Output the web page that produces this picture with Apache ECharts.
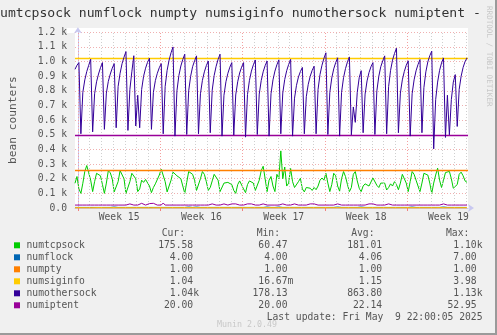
<!DOCTYPE html>
<html><head><meta charset="utf-8">
<script src="https://cdn.jsdelivr.net/npm/echarts@6/dist/echarts.min.js"></script>
<style>html,body{margin:0;padding:0;background:#f0f0f0;overflow:hidden}#c{width:497px;height:335px}</style>
</head><body><div id="c"></div>
<script>
// ---- data ----
const titleText = 'umtcpsock numflock numpty numsiginfo numothersock numiptent -';
const yAxisTitle = 'bean counters';
const seriesNames = ['numtcpsock','numflock','numpty','numsiginfo','numothersock','numiptent'];
const seriesColors = ['#00cc00','#0066b3','#ff8000','#ffcc00','#330099','#990099'];
// samples: hours relative to start of Week 15, first sample at -6h, one sample every 4h
const startHour = -6;
const stepHours = 4;
const numtcpsock = [
169,215,130,100,169,250,290,240,190,112,
180,237,237,220,160,100,170,255,240,200,
110,100,180,255,255,200,100,110,180,237,
230,200,112,130,190,175,195,190,150,105,
140,165,175,225,265,272,180,110,120,190,
245,240,220,225,200,150,100,175,249,240,
230,190,120,110,200,249,230,180,120,140,
185,230,235,190,112,115,170,180,175,175,
160,120,100,160,185,175,130,105,160,185,
190,170,120,130,190,255,285,200,112,190,
215,150,112,230,200,390,200,280,150,170,
270,180,140,150,180,203,130,110,140,140,
135,120,140,125,150,190,205,190,237,170,
112,160,237,220,150,115,200,249,215,160,
112,140,230,249,185,135,112,150,165,160,
150,160,205,200,155,140,170,180,170,123,
140,165,150,180,160,125,170,230,220,170,
112,180,249,230,190,150,112,170,237,249,
225,170,100,170,225,272,190,140,190,242,
240,250,200,135,125,160,230,245,220,185,
175];
const numflock = [
4,4,4,4,4,4,4,4,4,4,4,4,4,4,4,4,4,4,4,4,
7,4,4,4,4,4,4,4,4,4,4,4,4,4,4,4,4,4,4,4,
4,4,4,4,4,4,4,4,4,4,4,4,4,4,4,4,4,4,7,4,
4,4,7,4,4,4,4,4,4,4,4,4,4,4,4,4,4,4,4,4,
4,4,4,4,4,4,4,4,4,4,4,4,4,4,4,4,4,4,7,4,
4,4,4,4,7,4,4,4,4,4,4,4,4,4,4,4,4,4,4,4,
4,4,4,4,4,4,4,4,4,4,4,4,4,4,7,4,4,4,4,4,
4,4,4,4,4,4,7,4,4,4,4,4,4,4,4,4,4,4,4,4,
4,4,4,4,4,4,4,4,4,4,4,4,7,4,4,4,4,4,4,4,
4,4,4,4,4,4,4,4,7,4,4,4,4,4,4,4,4,4,4,4,
4];
const numpty = [
1,1,1,1,1,1,1,1,1,1,1,1,1,1,1,1,1,1,1,1,
1,1,1,1,1,1,1,1,1,1,1,1,1,1,1,1,1,1,1,1,
1,1,1,1,1,1,1,1,1,1,1,1,1,1,1,1,1,1,1,1,
1,1,1,1,1,1,1,1,1,1,1,1,1,1,1,1,1,1,1,1,
1,1,1,1,1,1,1,1,1,1,1,1,1,1,1,1,1,1,1,1,
1,1,1,1,1,1,1,1,1,1,1,1,1,1,1,1,1,1,1,1,
1,1,1,1,1,1,1,1,1,1,1,1,1,1,1,1,1,1,1,1,
1,1,1,1,1,1,1,1,1,1,1,1,1,1,1,1,1,1,1,1,
1,1,1,1,1,1,1,1,1,1,1,1,1,1,1,1,1,1,1,1,
1,1,1,1,1,1,1,1,1,1,1,1,1,1,1,1,1,1,1,1,
1];
const numsiginfo = [
1,1,1,2,1,1,1,1,0,1,1,1,2,1,1,1,1,1,1,1,
1,1,1,1,1,2,1,1,1,1,1,3,1,1,1,1,1,1,0,1,
1,1,1,1,1,1,1,2,1,1,1,1,1,1,1,1,1,1,1,1,
1,2,1,1,1,1,1,1,1,1,1,1,1,4,1,1,1,1,1,1,
1,1,1,1,1,1,1,1,2,1,1,1,1,1,1,1,1,1,1,1,
1,1,1,1,1,2,1,1,1,1,1,1,1,1,1,1,1,1,1,1,
1,1,1,2,1,1,1,1,1,1,1,1,1,1,1,1,1,1,1,2,
1,1,1,1,1,1,1,1,1,1,1,1,1,1,1,1,1,2,1,1,
1,1,1,1,1,1,1,1,1,1,1,1,1,1,1,1,1,1,1,1,
1,1,1,1,1,1,2,1,1,1,1,1,1,1,1,1,1,1,1,1,
1];
const numothersock = [
947,975,993,
507,790,875,932,975,1016,
520,780,862,915,958,993,
537,785,865,915,955,986,
548,830,920,985,1030,1068,
530,810,930,1040,560,770,
548,810,900,955,995,1023,
537,790,870,920,958,986,
507,830,940,1010,1060,1100,
491,800,905,970,1015,1050,
502,800,900,965,1005,1039,
507,780,872,930,972,1004,
514,805,905,968,1015,1050,
491,770,862,920,962,993,
498,772,862,922,962,993,
484,775,872,935,978,1011,
502,778,870,930,972,1004,
491,780,875,935,978,1012,
507,785,878,938,980,1015,
491,750,838,895,932,960,
507,760,845,900,940,968,
507,810,912,975,1022,1060,
502,790,888,950,993,1026,
491,790,890,952,998,1032,
500,690,585,790,890,938,
514,778,868,925,965,993,
502,800,900,965,1005,1039,
507,830,940,1010,1055,1091,
514,785,875,932,975,1005,
491,780,875,937,980,1014,
514,822,930,998,1040,1071,
404,740,860,940,990,1025,
482,770,500,740,860,911,
557,810,900,960,1000,1025];
const numiptent = [
20,20,20,26,20,20,20,20,20,20,20,20,20,20,20,20,20,20,20,20,
20,20,20,20,20,20,20,28,28,20,20,20,20,30,32,30,20,20,30,34,
32,30,20,20,20,34,20,20,20,20,20,20,20,20,20,20,20,28,20,20,
20,20,20,28,20,20,20,20,20,20,28,20,20,20,20,28,28,20,20,20,
28,30,28,20,20,20,20,28,28,30,28,20,20,20,20,28,28,20,20,20,
20,20,20,20,20,28,28,20,20,20,20,30,28,20,20,20,20,20,20,20,
28,20,28,20,20,28,20,20,20,20,20,20,20,28,28,20,20,20,20,20,
20,20,20,20,20,20,20,20,20,28,28,20,28,28,20,20,20,20,20,20,
28,20,20,20,20,28,20,20,20,20,20,20,20,20,20,20,20,20,20,20,
20,20,20,20,20,20,20,28,28,20,20,20,20,20,20,28,20,20,20,20,
20];
// horizontal limit rules (series index, value)
const limitSeries = [3, 5, 2];
const limitValues = [1024, 500, 256];
// x axis
const xMinHour = -6, xMaxHour = 796;
const weekLabels = ['Week 15','Week 16','Week 17','Week 18','Week 19'];
const weekCenterHours = [84, 252, 420, 588, 756];
const weekStartHours = [0, 168, 336, 504, 672];
// y axis
const yMax = 1200, yStep = 100;
// legend stats
const statHeaders = ['Cur:','Min:','Avg:','Max:'];
const statCur = ['175.58','4.00','1.00','1.04','1.04k','20.00'];
const statMin = ['60.47','4.00','1.00','16.67m','178.13','20.00'];
const statAvg = ['181.01','4.06','1.00','1.15','863.80','22.14'];
const statMax = ['1.10k','7.00','1.00','3.98','1.13k','52.95'];
const lastUpdate = 'Last update: Fri May  9 22:00:05 2025';
const muninVersion = 'Munin 2.0.49';
const watermark = 'RRDTOOL / TOBI OETIKER';

// ---- chart ----
const MONO = 'DejaVu Sans Mono';
const TXT = '#555';
const chart = echarts.init(document.getElementById('c'));
const allData = [numtcpsock,numflock,numpty,numsiginfo,numothersock,numiptent];
const toPairs = arr => arr.map((v, i) => [startHour + stepHours * i, v]);

const dayLines = [];
for (let h = 0; h <= xMaxHour; h += 24) {
  const isWeek = weekStartHours.indexOf(h) >= 0;
  dayLines.push({xAxis: h, lineStyle: {color: isWeek ? '#f4a0a0' : '#cfcfcf', type: [1, 2], width: 1}});
}

const series = [{
  type: 'line', data: [], z: 1, silent: true,
  markLine: {silent: true, symbol: 'none', label: {show: false}, animation: false, data: dayLines}
}];
seriesNames.forEach((n, si) => {
  const s = {
    name: n, type: 'line', data: toPairs(allData[si]), showSymbol: false, symbol: 'none',
    color: seriesColors[si], lineStyle: {width: 1, color: seriesColors[si]},
    z: 3 + si, animation: false, silent: true
  };
  const li = limitSeries.indexOf(si);
  if (li >= 0) {
    s.markLine = {silent: true, symbol: 'none', label: {show: false}, animation: false,
      lineStyle: {color: seriesColors[si], type: 'solid', width: 1.4},
      data: [{yAxis: limitValues[li]}]};
  }
  series.push(s);
});

const G = [];
G.push({type: 'rect', shape: {x: 67, y: 28, width: 401, height: 5}, style: {fill: '#fff'}, z: -10, silent: true});
G.push({type: 'rect', shape: {x: 0, y: 333, width: 497, height: 2}, style: {fill: '#9a9a9a'}, silent: true});
G.push({type: 'rect', shape: {x: 495, y: 0, width: 2, height: 335}, style: {fill: '#9a9a9a'}, silent: true});
G.push({type: 'text', style: {text: titleText, x: 0, y: 14, font: '13.1px ' + MONO, fill: '#333', verticalAlign: 'middle', align: 'left'}, silent: true});
G.push({type: 'text', x: 489, y: 6, rotation: -Math.PI / 2,
  style: {text: watermark, x: 0, y: 0, font: '7.6px ' + MONO, fill: '#c8c8c8', verticalAlign: 'middle', align: 'left'}, silent: true});
const rowY0 = 245.3, rowH = 12;
const colEnds = [199, 293.3, 388, 482.5];
const headEnds = [185, 280, 374.5, 469.3];
const charW = 9.7 * 0.602;
statHeaders.forEach((h, c) => {
  G.push({type: 'text', style: {text: h, x: headEnds[c], y: 233.3, font: '9.7px ' + MONO, fill: TXT, align: 'right', verticalAlign: 'middle'}, silent: true});
});
const cols = [statCur, statMin, statAvg, statMax];
seriesNames.forEach((n, r) => {
  const y = rowY0 + r * rowH;
  G.push({type: 'rect', shape: {x: 14, y: y - 3, width: 6, height: 6}, style: {fill: seriesColors[r]}, silent: true});
  G.push({type: 'text', style: {text: n, x: 26.5, y: y, font: '9.7px ' + MONO, fill: TXT, align: 'left', verticalAlign: 'middle'}, silent: true});
  cols.forEach((col, c) => {
    const s = col[r];
    const hasSuffix = /[a-z]$/.test(s);
    G.push({type: 'text', style: {text: s, x: colEnds[c] - (hasSuffix ? 0 : charW), y: y, font: '9.7px ' + MONO, fill: TXT, align: 'right', verticalAlign: 'middle'}, silent: true});
  });
});
G.push({type: 'text', style: {text: lastUpdate, x: 482.5, y: 317.3, font: '9.7px ' + MONO, fill: TXT, align: 'right', verticalAlign: 'middle'}, silent: true});
G.push({type: 'text', style: {text: muninVersion, x: 247, y: 324.5, font: '8.3px ' + MONO, fill: '#c8c8c8', align: 'center', verticalAlign: 'middle'}, silent: true});

chart.setOption({
  animation: false,
  backgroundColor: '#f0f0f0',
  grid: {left: 67, right: 29, top: 32.3, bottom: 127, show: true, backgroundColor: '#fff', borderWidth: 0},
  xAxis: {
    type: 'value', min: xMinHour, max: xMaxHour,
    axisLine: {show: true, lineStyle: {color: '#c8c8f0', width: 1}, symbol: ['none', 'arrow'], symbolSize: [6, 6], symbolOffset: [0, 6]},
    axisTick: {show: true, customValues: weekStartHours, length: 3, inside: false, lineStyle: {color: '#f08080'}},
    axisLabel: {customValues: weekCenterHours, margin: 4, fontFamily: MONO, fontSize: 9.7, color: TXT,
      formatter: v => weekLabels[weekCenterHours.indexOf(v)] || ''},
    splitLine: {show: false}
  },
  yAxis: {
    type: 'value', min: 0, max: yMax, interval: yStep,
    name: yAxisTitle, nameLocation: 'middle', nameRotate: 90, nameGap: 56,
    nameTextStyle: {fontFamily: MONO, fontSize: 11.2, color: TXT},
    axisLine: {show: true, lineStyle: {color: '#c8c8f0', width: 1}, symbol: ['none', 'arrow'], symbolSize: [6, 6], symbolOffset: [0, 5]},
    axisTick: {show: false},
    axisLabel: {margin: 8, fontFamily: MONO, fontSize: 9.7, color: TXT,
      formatter: v => v === 0 ? '0.0' : (v / 1000).toFixed(1) + ' k'},
    splitLine: {show: true, lineStyle: {color: '#f0b0b0', type: [1, 2], width: 1}}
  },
  series: series,
  graphic: G
});
</script>
</body></html>
